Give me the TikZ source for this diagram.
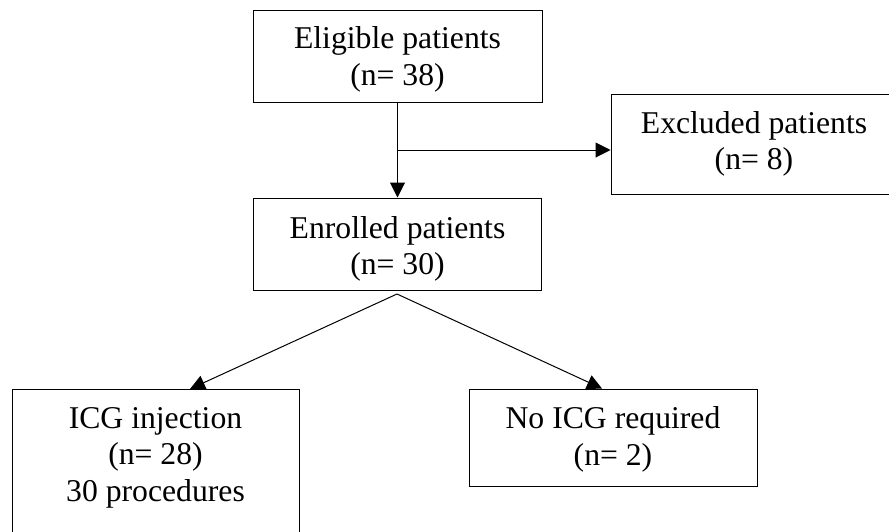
\documentclass[tikz,border=0pt]{standalone}
\usepackage{fontspec}
\setmainfont{Liberation Serif}
\usetikzlibrary{arrows.meta}
\tikzset{
  flowbox/.style={draw=black, line width=1pt, rectangle, inner sep=0pt},
  flowtext/.style={inner sep=0pt, align=center, font=\fontsize{31.7pt}{36.5pt}\selectfont},
  conn/.style={draw=black, line width=1pt},
  arr/.style={conn, -{Triangle[length=15pt, width=15pt]}}
}
\begin{document}
\begin{tikzpicture}[x=1pt, y=-1pt]
\useasboundingbox (0,0) rectangle (889,531);
\node[flowbox, minimum width=289pt, minimum height=92pt] (elig) at (397.5,56) {};
\node[flowbox, minimum width=288pt, minimum height=92pt] (enr) at (397.5,244) {};
\node[flowbox, minimum width=286pt, minimum height=100pt] (excl) at (754,144) {};
\node[flowbox, minimum width=288pt, minimum height=97pt] (noicg) at (613,437.5) {};
\node[flowbox, minimum width=287pt, minimum height=160pt, anchor=north] (icg) at (155.5,389) {};
\node[flowtext] (eligtxt) at (397.5,59.5) {Eligible patients\\(n= 38)};
\node[flowtext] (enrtxt) at (397.5,249) {Enrolled patients\\(n= 30)};
\node[flowtext] (excltxt) at (754,144) {Excluded patients\\(n= 8)};
\node[flowtext] (noicgtxt) at (613,439.5) {No ICG required\\(n= 2)};
\node[flowtext] (icgtxt) at (155.5,457.5) {ICG injection\\(n= 28)\\30 procedures};
\coordinate (br) at (397.5,150);
\coordinate (apex) at (397,294);
\coordinate (icgtip) at ([xshift=34.5pt]icg.north);
\coordinate (noicgtip) at ([xshift=-11pt]noicg.north);
\draw[arr] (elig.south) -- (enr.north);
\draw[arr] (br) -- (br -| excl.west);
\draw[arr] (apex) -- (icgtip);
\draw[arr] (apex) -- (noicgtip);
\end{tikzpicture}
\end{document}
